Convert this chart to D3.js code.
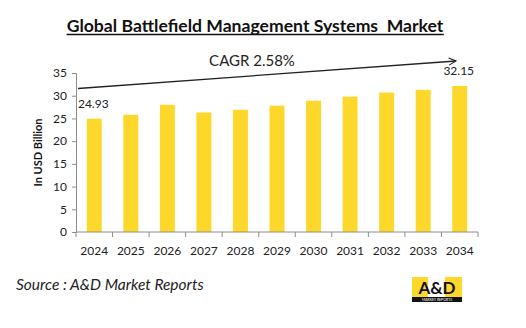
<!DOCTYPE html>
<html>
<head>
<meta charset="utf-8">
<script src="https://cdn.jsdelivr.net/npm/d3@7"></script>
<style>
  body { margin: 0; background: #fff; }
  text { font-family: Lato, "Open Sans", sans-serif; fill: #222; }
</style>
</head>
<body>
<div id="chart"></div>
<script>
// market size by year, USD billion
const years = ['2024', '2025', '2026', '2027', '2028', '2029', '2030', '2031', '2032', '2033', '2034'];
const values = [24.93, 25.8, 28.0, 26.3, 26.9, 27.8, 28.9, 29.8, 30.7, 31.3, 32.15];
const yTicks = [0, 5, 10, 15, 20, 25, 30, 35];
const labelled = ['2024', '2034'];

const width = 526;
const height = 328;
const barColor = '#FDD82B';
const axisColor = '#8c8c8c';

const plotLeft = 76, plotRight = 478, plotTop = 73, plotBottom = 232;

const svg = d3.select('#chart').append('svg')
    .attr('width', width)
    .attr('height', height)
    .style('background-color', 'white');

const x = d3.scaleBand()
    .domain(years)
    .range([plotLeft, plotRight])
    .paddingInner(0.59)
    .paddingOuter(0.295);

const y = d3.scaleLinear()
    .domain([0, 35])
    .range([plotBottom, plotTop]);

// title, underlined
const title = svg.append('text')
    .attr('x', 255)
    .attr('y', 32)
    .attr('text-anchor', 'middle')
    .style('font-size', '17.6px')
    .style('font-weight', 'bold')
    .style('white-space', 'pre')
    .style('fill', '#111')
    .text('Global Battlefield Management Systems  Market');
const tb = title.node().getBBox();
svg.append('line')
    .attr('x1', tb.x).attr('x2', tb.x + tb.width)
    .attr('y1', 34.5).attr('y2', 34.5)
    .attr('stroke', '#111')
    .attr('stroke-width', 1.3);

// bars
svg.append('g')
    .selectAll('rect')
    .data(values)
    .join('rect')
    .attr('x', (d, i) => x(years[i]))
    .attr('y', d => y(d))
    .attr('width', x.bandwidth())
    .attr('height', d => y(0) - y(d))
    .attr('fill', barColor);

// value labels on first and last bar
svg.append('g')
    .selectAll('text')
    .data(years.filter(yr => labelled.includes(yr)))
    .join('text')
    .attr('x', yr => x(yr) + x.bandwidth() / 2 - 1)
    .attr('y', yr => y(values[years.indexOf(yr)]) - 11)
    .attr('text-anchor', 'middle')
    .style('font-size', '12px')
    .text(yr => values[years.indexOf(yr)].toFixed(2));

// y axis
const yAxis = svg.append('g')
    .attr('transform', `translate(${plotLeft},0)`)
    .call(d3.axisLeft(y).tickValues(yTicks).tickSize(4).tickPadding(5));
yAxis.select('.domain').attr('stroke', axisColor);
yAxis.selectAll('line').attr('stroke', axisColor);
yAxis.selectAll('text')
    .style('font-size', '12px')
    .style('font-family', 'Lato, sans-serif')
    .attr('fill', '#222');

// x axis: ticks sit between categories
const xAxis = svg.append('g')
    .attr('transform', `translate(0,${plotBottom})`);
xAxis.append('line')
    .attr('x1', plotLeft).attr('x2', plotRight)
    .attr('stroke', axisColor);
const step = x.step();
xAxis.selectAll('.tk')
    .data(d3.range(years.length + 1))
    .join('line')
    .attr('class', 'tk')
    .attr('x1', i => plotLeft + i * step)
    .attr('x2', i => plotLeft + i * step)
    .attr('y1', 0).attr('y2', 5)
    .attr('stroke', axisColor);
xAxis.selectAll('text')
    .data(years)
    .join('text')
    .attr('x', yr => x(yr) + x.bandwidth() / 2)
    .attr('y', 23)
    .attr('text-anchor', 'middle')
    .style('font-size', '12px')
    .text(yr => yr);

// axis title
svg.append('text')
    .attr('transform', `translate(42,${(plotTop + plotBottom) / 2}) rotate(-90)`)
    .attr('text-anchor', 'middle')
    .style('font-size', '11px')
    .style('font-weight', 'bold')
    .style('fill', '#111')
    .text('In USD Billion');

// CAGR arrow
const defs = svg.append('defs');
defs.append('marker')
    .attr('id', 'head')
    .attr('viewBox', '0 0 10 10')
    .attr('refX', 9).attr('refY', 5)
    .attr('markerWidth', 9).attr('markerHeight', 9)
    .attr('markerUnits', 'userSpaceOnUse')
    .attr('orient', 'auto')
    .append('path')
    .attr('d', 'M1,1 L9,5 L1,9')
    .attr('fill', 'none')
    .attr('stroke', '#222')
    .attr('stroke-width', 1.2);
svg.append('line')
    .attr('x1', 78).attr('y1', 88.5)
    .attr('x2', 456).attr('y2', 61)
    .attr('stroke', '#222')
    .attr('stroke-width', 1.3)
    .attr('marker-end', 'url(#head)');
svg.append('text')
    .attr('x', 252)
    .attr('y', 66)
    .attr('text-anchor', 'middle')
    .style('font-size', '15px')
    .text('CAGR 2.58%');

// source note
svg.append('text')
    .attr('x', 16)
    .attr('y', 290)
    .style('font-size', '15.5px')
    .style('font-style', 'italic')
    .text('Source : A&D Market Reports');

// logo
const logo = svg.append('g').attr('transform', 'translate(412,277)');
logo.append('rect').attr('width', 50).attr('height', 20).attr('fill', barColor);
logo.append('rect').attr('x', 16).attr('width', 17).attr('height', 20).attr('fill', '#fff');
logo.append('rect').attr('y', 20).attr('width', 50).attr('height', 5).attr('fill', '#111');
logo.append('text')
    .attr('x', 25).attr('y', 16.5)
    .attr('text-anchor', 'middle')
    .style('font-size', '17px')
    .style('font-weight', 'bold')
    .style('fill', '#111')
    .text('A&D');
logo.append('text')
    .attr('x', 25).attr('y', 24)
    .attr('text-anchor', 'middle')
    .style('font-size', '3.5px')
    .style('fill', '#fff')
    .text('MARKET REPORTS');
</script>
</body>
</html>
